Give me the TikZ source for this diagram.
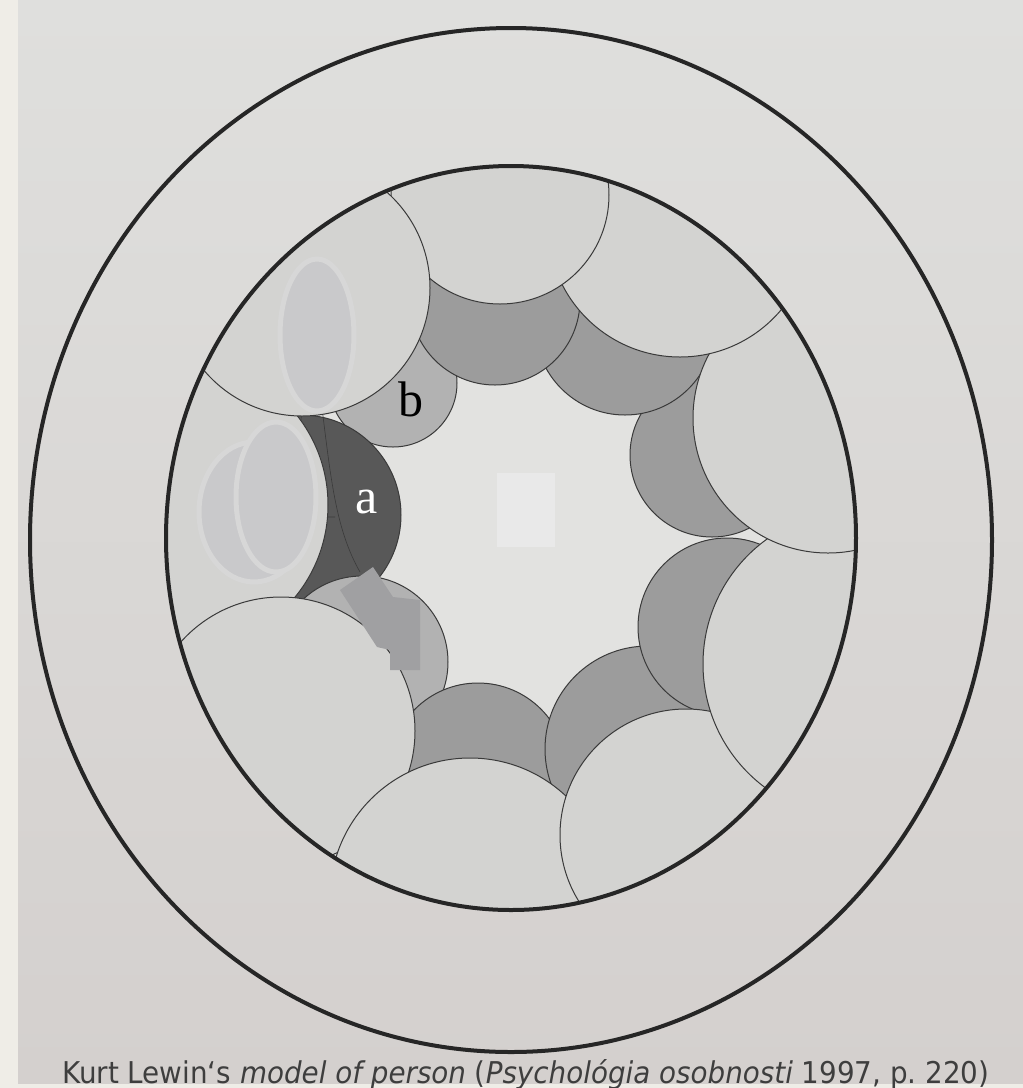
\documentclass[tikz,border=0pt]{standalone}
\usepackage{fontspec}
\usepackage{graphicx}
\newfontfamily\capfont{DejaVu Sans}[ItalicFont={DejaVu Sans Oblique}]
\newfontfamily\lblfont{Liberation Serif}
\definecolor{pagebg}{RGB}{239,237,231}
\definecolor{phototop}{RGB}{223,223,221}
\definecolor{photobot}{RGB}{212,208,206}
\definecolor{freearea}{RGB}{226,226,224}
\definecolor{lightcell}{RGB}{211,211,209}
\definecolor{midcell}{RGB}{156,156,156}
\definecolor{bcell}{RGB}{178,178,178}
\definecolor{acell}{RGB}{88,88,88}
\definecolor{cellline}{RGB}{58,58,58}
\definecolor{rimline}{RGB}{38,38,38}
\definecolor{maskgray}{RGB}{201,201,203}
\definecolor{maskring}{RGB}{215,215,215}
\definecolor{maskdark}{RGB}{160,160,162}
\definecolor{masklight}{RGB}{233,233,233}
\definecolor{captext}{RGB}{62,62,62}
\usetikzlibrary{positioning}

\begin{document}
\begin{tikzpicture}[x=1pt,y=-1pt]
  \tikzstyle{rim}=[draw=rimline,line width=4pt]
  \tikzstyle{light}=[fill=lightcell,draw=cellline,line width=1pt]
  \tikzstyle{cell}=[draw=cellline,line width=1pt]
  \tikzstyle{mask}=[fill=maskgray,draw=maskring,line width=5pt]
  \tikzstyle{letter}=[font=\lblfont\fontsize{50}{50}\selectfont,inner sep=0pt,anchor=base]
  \useasboundingbox (0,0) rectangle (1023,1088);
  \fill[pagebg] (0,0) rectangle (1023,1088);
  \shade[top color=phototop,bottom color=photobot] (18,0) rectangle (1023,1083);
  % outer boundary of the person
  \draw[rim] (511,540) ellipse (481pt and 512pt);
  \begin{scope}
    \clip (511,538) ellipse (345pt and 372pt);
    \fill[freearea] (511,538) ellipse (345pt and 372pt);
    % inner-personal regions (central)
    \foreach \cx/\cy/\r/\c in {393/383/64/bcell,301/515/100/acell,362/662/86/bcell,478/772/89/midcell,
      648/749/103/midcell,727/627/89/midcell,712/455/82/midcell,625/325/90/midcell,495/300/85/midcell}
      \filldraw[cell,fill=\c] (\cx,\cy) circle (\r pt);
    \draw[cellline,line width=0.6pt] (322,408) .. controls (331,480) and (336,530) .. (360,572);
    \draw[cellline,line width=0.6pt] (302,408) -- (301,420) (315,517) -- (335,517);
    % peripheral regions
    \foreach \cx/\cy/\r in {183/505/145,281/731/134,470/898/140,686/835/126,857/664/154,
      828/418/135,680/225/132,500/195/109,302/288/128}
      \filldraw[light] (\cx,\cy) circle (\r pt);
    % covered spots
    \filldraw[mask] (317,335) ellipse (37pt and 76pt);
    \filldraw[mask] (254,512) ellipse (55pt and 70pt);
    \filldraw[mask] (276,497) ellipse (40pt and 75pt);
    \fill[masklight] (497,473) rectangle (555,547);
    \fill[maskdark] (340,590) -- (373,567) -- (393,597) -- (420,600) -- (420,670) -- (390,670)
      -- (390,650) -- (377,647) -- cycle;
  \end{scope}
  \draw[rim] (511,538) ellipse (345pt and 372pt);
  \node[letter,text=white] (cella) at (367,513) {a};
  \node[letter,text=black] (cellb) at (411,416) {b};
  \node[anchor=base west,inner sep=0pt,text=captext] (caption) at (62,1083)
    {\resizebox{927pt}{\height}{\capfont\fontsize{30}{36}\selectfont Kurt Lewin‘s \textit{model of person} (\textit{Psychológia osobnosti} 1997, p.~220)}};
\end{tikzpicture}
\end{document}
